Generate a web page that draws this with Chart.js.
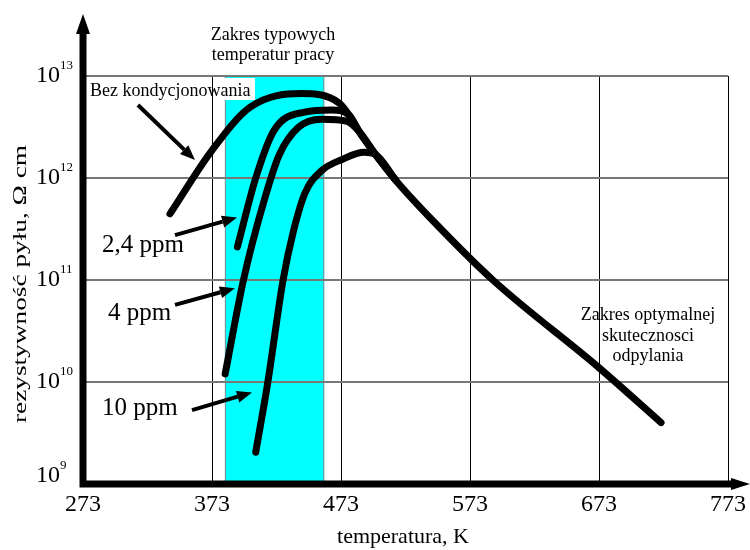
<!DOCTYPE html>
<html lang="pl">
<head>
<meta charset="UTF-8">
<title>Rezystywność pyłu</title>
<script src="https://cdn.jsdelivr.net/npm/chart.js"></script>
<style>
    html, body { margin: 0; padding: 0; background: #fff; }
    #wrap { width: 750px; height: 550px; }
</style>
</head>
<body>
<div id="wrap"><canvas id="chart"></canvas></div>
<script>
// osie
const temperatureTicks = [273, 373, 473, 573, 673, 773];
const resistivityTicks = [1e9, 1e10, 1e11, 1e12, 1e13];
const workRange = [383, 460]; // zakres typowych temperatur pracy, K

// bez kondycjonowania
const bezT = [340.4, 373, 402.9, 442.3, 471.4, 479.3, 487.1, 499.6, 515.2, 544.1, 590.7, 673, 721.1];
const bezR = [4.45e11, 1.87e12, 4.98e12, 6.73e12, 5.46e12, 4.13e12, 2.85e12, 1.71e12, 9.58e11, 3.83e11, 1.0e11, 1.38e10, 4.0e9];
// 2,4 ppm
const ppm24T = [392.7, 406.9, 421, 444.7, 465.9, 479.3, 487.1, 499.6, 515.2];
const ppm24R = [2.11e11, 1.0e12, 2.92e12, 4.43e12, 4.65e12, 4.13e12, 2.85e12, 1.71e12, 9.58e11];
// 4 ppm
const ppm4T = [383.2, 397.4, 413.2, 425, 439.9, 458, 477.7, 487.1, 499.6, 515.2];
const ppm4R = [1.20e10, 1.0e11, 5.87e11, 1.67e12, 3.13e12, 3.77e12, 3.60e12, 2.85e12, 1.71e12, 9.58e11];
// 10 ppm
const ppm10T = [406.9, 416.3, 428.1, 436, 445.4, 458, 473.8, 491, 499.6, 515.2];
const ppm10R = [2.05e9, 1.0e10, 1.0e11, 2.97e11, 7.26e11, 1.18e12, 1.52e12, 1.79e12, 1.71e12, 9.58e11];

// strzałki opisów: [T od, R od, T do, R do]
const arrows = [
    [315.6, 5.2e12, 359.8, 1.5e12],
    [344.3, 2.75e11, 392.4, 4.1e11],
    [344.3, 5.7e10, 390.8, 8.3e10],
    [357.5, 5.3e9, 404.0, 7.9e9]
];

const SERIF = '"Liberation Serif", "Times New Roman", serif';

function toPoints(xs, ys) {
    return xs.map((x, i) => ({x: x, y: ys[i]}));
}

function curve(xs, ys) {
    return {
        data: toPoints(xs, ys),
        borderColor: '#000',
        borderWidth: 7,
        pointRadius: 0,
        fill: false,
        cubicInterpolationMode: 'monotone',
        borderCapStyle: 'round',
        borderJoinStyle: 'round',
        clip: false
    };
}

function arrow(ctx, x1, y1, x2, y2) {
    const a = Math.atan2(y2 - y1, x2 - x1);
    const len = 15, half = 6;
    const bx = x2 - len * Math.cos(a), by = y2 - len * Math.sin(a);
    ctx.beginPath();
    ctx.moveTo(x1, y1);
    ctx.lineTo(bx, by);
    ctx.lineWidth = 4;
    ctx.strokeStyle = '#000';
    ctx.stroke();
    ctx.beginPath();
    ctx.moveTo(x2, y2);
    ctx.lineTo(bx + half * Math.sin(a), by - half * Math.cos(a));
    ctx.lineTo(bx - half * Math.sin(a), by + half * Math.cos(a));
    ctx.closePath();
    ctx.fillStyle = '#000';
    ctx.fill();
}

function text(ctx, s, x, y, size, align) {
    ctx.font = size + 'px ' + SERIF;
    ctx.textAlign = align || 'left';
    ctx.textBaseline = 'alphabetic';
    ctx.fillStyle = '#000';
    ctx.fillText(s, x, y);
}

const backdrop = {
    id: 'backdrop',
    beforeDraw(chart) {
        const ctx = chart.ctx, xs = chart.scales.x, area = chart.chartArea;
        ctx.save();
        ctx.fillStyle = '#fff';
        ctx.fillRect(0, 0, chart.width, chart.height);
        // pasek temperatur pracy
        const x1 = xs.getPixelForValue(workRange[0]), x2 = xs.getPixelForValue(workRange[1]);
        ctx.fillStyle = '#00ffff';
        ctx.fillRect(x1, area.top, x2 - x1, area.bottom - area.top);
        ctx.strokeStyle = '#888';
        ctx.lineWidth = 1;
        ctx.strokeRect(x1 + 0.5, area.top, x2 - x1 - 1, area.bottom - area.top);
        // białe tło podpisu
        ctx.fillStyle = '#fff';
        ctx.fillRect(area.left + 4, area.top + 2, 168, 22);
        ctx.restore();
    }
};

const decorations = {
    id: 'decorations',
    afterDraw(chart) {
        const ctx = chart.ctx, xs = chart.scales.x, ys = chart.scales.y, area = chart.chartArea;
        ctx.save();

        arrows.forEach(a => arrow(ctx,
            xs.getPixelForValue(a[0]), ys.getPixelForValue(a[1]),
            xs.getPixelForValue(a[2]), ys.getPixelForValue(a[3])));

        // osie ze strzałkami
        ctx.strokeStyle = '#000';
        ctx.fillStyle = '#000';
        ctx.lineWidth = 7;
        ctx.lineCap = 'butt';
        ctx.beginPath();
        ctx.moveTo(area.left, area.bottom + 3.5);
        ctx.lineTo(area.left, 30);
        ctx.moveTo(area.left - 3.5, area.bottom);
        ctx.lineTo(736, area.bottom);
        ctx.stroke();
        ctx.beginPath();
        ctx.moveTo(area.left, 14);
        ctx.lineTo(area.left - 7, 34);
        ctx.lineTo(area.left + 7, 34);
        ctx.closePath();
        ctx.fill();
        ctx.beginPath();
        ctx.moveTo(750, area.bottom);
        ctx.lineTo(731, area.bottom - 6);
        ctx.lineTo(731, area.bottom + 6);
        ctx.closePath();
        ctx.fill();

        // opisy osi X
        temperatureTicks.forEach(t => text(ctx, String(t), xs.getPixelForValue(t), 511, 24, 'center'));
        // opisy osi Y: 10 z wykładnikiem
        resistivityTicks.forEach(r => {
            const y = Math.min(ys.getPixelForValue(r) + 6, area.bottom - 2);
            text(ctx, '10', 60, y, 24, 'right');
            text(ctx, String(Math.round(Math.log10(r))), 60, y - 13, 13, 'left');
        });

        // tytuły osi
        text(ctx, 'temperatura, K', 403, 543, 22, 'center');
        ctx.save();
        ctx.translate(21, 284);
        ctx.rotate(-Math.PI / 2);
        ctx.font = '18px ' + SERIF;
        const title = 'rezystywność pyłu, Ω cm';
        const w = ctx.measureText(title).width;
        ctx.scale(278 / w, 1);
        ctx.textAlign = 'center';
        ctx.textBaseline = 'middle';
        ctx.fillText(title, 0, 0);
        ctx.restore();

        // podpisy
        text(ctx, 'Zakres typowych', 273, 40, 18, 'center');
        text(ctx, 'temperatur pracy', 273, 60, 18, 'center');
        text(ctx, 'Bez kondycjonowania', 90, 96, 18, 'left');
        text(ctx, '2,4 ppm', 102, 252, 25, 'left');
        text(ctx, '4 ppm', 108, 320, 25, 'left');
        text(ctx, '10 ppm', 102, 415, 25, 'left');
        text(ctx, 'Zakres optymalnej', 648, 320, 18, 'center');
        text(ctx, 'skutecznosci', 648, 341, 18, 'center');
        text(ctx, 'odpylania', 648, 361, 18, 'center');

        ctx.restore();
    }
};

new Chart(document.getElementById('chart').getContext('2d'), {
    type: 'line',
    data: {
        datasets: [
            curve(bezT, bezR),
            curve(ppm24T, ppm24R),
            curve(ppm4T, ppm4R),
            curve(ppm10T, ppm10R)
        ]
    },
    options: {
        responsive: true,
        maintainAspectRatio: false,
        animation: false,
        layout: {padding: {left: 83, top: 76, right: 22, bottom: 66}},
        plugins: {legend: {display: false}, tooltip: {enabled: false}},
        scales: {
            x: {
                type: 'linear',
                min: 273,
                max: 773,
                afterBuildTicks: s => { s.ticks = temperatureTicks.map(v => ({value: v})); },
                ticks: {display: false},
                border: {display: false},
                grid: {color: '#000', lineWidth: 1, drawTicks: false}
            },
            y: {
                type: 'logarithmic',
                min: 1e9,
                max: 1e13,
                afterBuildTicks: s => { s.ticks = resistivityTicks.map(v => ({value: v})); },
                ticks: {display: false},
                border: {display: false},
                grid: {color: '#777', lineWidth: 2, drawTicks: false}
            }
        }
    },
    plugins: [backdrop, decorations]
});
</script>
</body>
</html>
